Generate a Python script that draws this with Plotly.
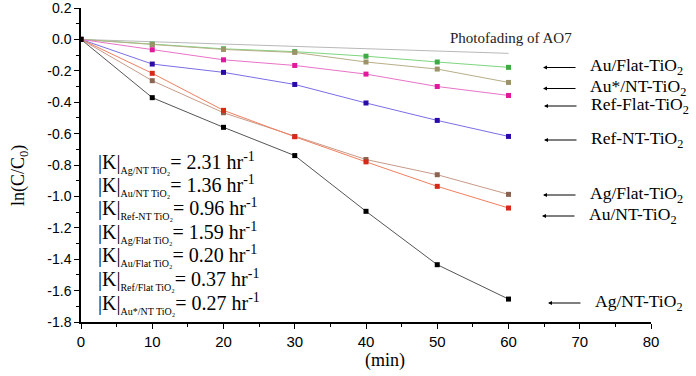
import plotly.graph_objects as go

time_min = [0, 10, 20, 30, 40, 50, 60]

series_names = ["Photofading of AO7", "Au/Flat-TiO2", "Au*/NT-TiO2", "Ref-Flat-TiO2",
                "Ref-NT-TiO2", "Ag/Flat-TiO2", "Au/NT-TiO2", "Ag/NT-TiO2"]
photofading = [0, None, None, None, None, None, -0.089]
au_flat = [0, -0.030, -0.060, -0.078, -0.107, -0.144, -0.178]
au_star_nt = [0, -0.034, -0.064, -0.083, -0.144, -0.189, -0.274]
ref_flat = [0, -0.066, -0.130, -0.166, -0.221, -0.300, -0.357]
ref_nt = [0, -0.157, -0.210, -0.287, -0.405, -0.516, -0.618]
ag_flat = [0, -0.263, -0.467, -0.618, -0.765, -0.862, -0.987]
au_nt = [0, -0.216, -0.452, -0.620, -0.780, -0.936, -1.074]
ag_nt = [0, -0.371, -0.560, -0.740, -1.095, -1.435, -1.654]

y_ticks = [-1.8, -1.6, -1.4, -1.2, -1.0, -0.8, -0.6, -0.4, -0.2, 0.0, 0.2]
x_ticks = [0, 10, 20, 30, 40, 50, 60, 70, 80]

k_labels = ["Ag/NT TiO₂", "Au/NT TiO₂", "Ref-NT TiO₂", "Ag/Flat TiO₂",
            "Au/Flat TiO₂", "Ref/Flat TiO₂", "Au*/NT TiO₂"]
k_values = ["2.31", "1.36", "0.96", "1.59", "0.20", "0.37", "0.27"]

serif = "Liberation Serif"
sans = "Liberation Sans"

fig = go.Figure()

px_ = [t for t, v in zip(time_min, photofading) if v is not None]
py_ = [v for v in photofading if v is not None]
fig.add_trace(go.Scatter(x=px_, y=py_, mode="lines",
                         line=dict(color="#b8b8b8", width=1), showlegend=False))

styles = [
    (au_flat, "#7ed67e", "#3daa45"),
    (au_star_nt, "#b8ae88", "#9c9468"),
    (ref_flat, "#e873c8", "#e0189c"),
    (ref_nt, "#7a6ee6", "#2a0aa8"),
    (ag_flat, "#c89a88", "#8a6450"),
    (au_nt, "#f08060", "#d82818"),
    (ag_nt, "#555555", "#000000"),
]
for vals, lc, mc in styles:
    fig.add_trace(go.Scatter(x=time_min, y=vals, mode="lines+markers",
                             line=dict(color=lc, width=1),
                             marker=dict(symbol="square", size=5, color=mc),
                             showlegend=False))

right_labels = [
    ("Au/Flat-TiO<sub>2</sub>", 66.5, 588),
    ("Au*/NT-TiO<sub>2</sub>", 87.5, 588),
    ("Ref-Flat-TiO<sub>2</sub>", 105, 589),
    ("Ref-NT-TiO<sub>2</sub>", 139, 589),
    ("Ag/Flat-TiO<sub>2</sub>", 194, 588),
    ("Au/NT-TiO<sub>2</sub>", 215, 587),
    ("Ag/NT-TiO<sub>2</sub>", 302, 593),
]

PL, PR, PT, PB = 81, 651, 8, 322
Y_TOP = 0.2

def dx(p):
    return (p - PL) / (PR - PL) * 80

def dy(p):
    return Y_TOP - (p - PT) / (PB - PT) * (Y_TOP + 1.8)

for txt, ypix, xpix in right_labels:
    fig.add_annotation(x=dx(xpix), y=dy(ypix), text=txt, showarrow=False,
                       xanchor="left", yanchor="middle",
                       font=dict(family=serif, size=17.5, color="black"))
    fig.add_annotation(x=dx(xpix - 45), y=dy(ypix + 1), ax=dx(xpix - 11), ay=dy(ypix + 1),
                       axref="x", ayref="y", text="", showarrow=True,
                       arrowhead=2, arrowsize=0.8, arrowwidth=1, arrowcolor="black")

fig.add_annotation(x=dx(511), y=dy(38), text="Photofading of AO7", showarrow=False,
                   xanchor="center", yanchor="middle",
                   font=dict(family=serif, size=15, color="#222"))

k_y = [162, 185, 208, 232, 255, 279, 303]
for lab, val, ypix in zip(k_labels, k_values, k_y):
    fig.add_annotation(x=dx(96), y=dy(ypix), showarrow=False, xanchor="left", yanchor="middle",
                       text=f"|K|<sub><span style='font-size:10px'>{lab}</span></sub>= {val} hr<sup>-1</sup>",
                       font=dict(family=serif, size=20, color="black"))

fig.add_annotation(xref="paper", yref="paper", x=(385 - PL) / (PR - PL), y=-(360 - PB) / (PB - PT),
                   text="(min)", showarrow=False, xanchor="center", yanchor="middle",
                   font=dict(family=serif, size=18, color="black"))
fig.add_annotation(xref="paper", yref="paper", x=(19 - PL) / (PR - PL), y=(PB - 176) / (PB - PT),
                   text="ln(C/C<sub>0</sub>)", showarrow=False, textangle=-90,
                   xanchor="center", yanchor="middle",
                   font=dict(family=serif, size=18, color="black"))

fig.update_xaxes(range=[0, 80], tickmode="array", tickvals=x_ticks,
                 ticktext=[str(v) for v in x_ticks], ticklabeloverflow="allow",
                 showgrid=False, zeroline=False,
                 showline=True, linecolor="black", linewidth=1.5, automargin=False,
                 ticks="outside", ticklen=5, tickwidth=1.2, tickcolor="black",
                 minor=dict(ticks="outside", ticklen=3, tick0=0, dtick=5, tickcolor="black"),
                 tickfont=dict(family=sans, size=15, color="black"))
fig.update_yaxes(range=[-1.8, Y_TOP], tickmode="array", tickvals=y_ticks,
                 ticktext=[f"{v:.1f}" for v in y_ticks], ticklabeloverflow="allow",
                 showgrid=False, zeroline=False,
                 showline=True, linecolor="black", linewidth=1.5, automargin=False,
                 ticks="outside", ticklen=5, tickwidth=1.2, tickcolor="black",
                 minor=dict(ticks="outside", ticklen=3, tick0=0, dtick=0.1, tickcolor="black"),
                 tickfont=dict(family=sans, size=14, color="black"))

fig.update_layout(width=696, height=376, margin=dict(l=PL, r=696 - PR, t=PT, b=376 - PB),
                  plot_bgcolor="white", paper_bgcolor="white", showlegend=False)

fig.write_html("out.html", config={"displayModeBar": False},
               post_script="document.body.style.margin='0';document.body.style.overflow='hidden';")
